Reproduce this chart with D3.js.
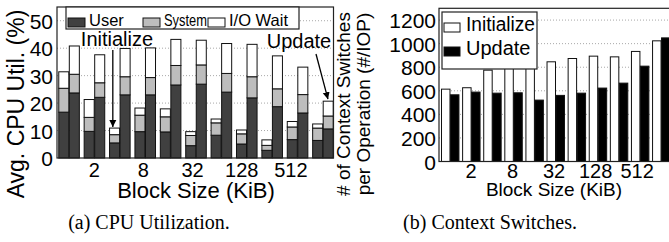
<!DOCTYPE html>
<html><head><meta charset="utf-8">
<script src="https://cdn.jsdelivr.net/npm/d3@7"></script>
<style>
html,body{margin:0;padding:0;background:#fff;overflow:hidden}
svg{display:block}
text{font-family:"Liberation Sans",Arial,Helvetica,sans-serif;fill:#000}
.cap{font-family:"Liberation Serif","Times New Roman",serif}
</style></head>
<body>
<svg id="c" width="669" height="242"></svg>
<script>
// ---- data ----
const categories = ["1","2","4","8","16","32","64","128","256","512","1024"]; // block size KiB
const tickLabels = ["2","8","32","128","512"];
const modes = ["Initialize","Update"];
const cpuParts = ["User","System","I/O Wait"];
// CPU utilization (%) components, stacked
const initUser = [16.7, 9.7, 5.5, 9.6, 9.5, 4.5, 8.3, 5.1, 2.8, 6.7, 6.4];
const initSys  = [8.7, 5.1, 3.0, 6.0, 5.5, 3.7, 4.5, 3.7, 1.8, 4.6, 4.5];
const initIO   = [6.0, 6.5, 2.4, 2.6, 2.9, 1.4, 1.4, 1.4, 2.0, 2.0, 1.5];
const updUser  = [23.7, 22.1, 23.0, 23.0, 26.6, 26.9, 24.0, 21.9, 18.7, 16.4, 10.6];
const updSys   = [6.8, 5.3, 6.6, 6.3, 7.1, 7.0, 6.8, 7.7, 6.5, 6.7, 4.7];
const updIO    = [10.3, 10.2, 10.3, 10.8, 9.5, 9.0, 10.9, 11.8, 12.0, 10.0, 5.4];
const cpuTicks = [0,10,20,30,40,50];
// context switches per operation
const initCS = [614, 626, 775, 812, 804, 846, 874, 894, 888, 934, 1024];
const updCS  = [566, 589, 580, 583, 521, 561, 580, 623, 665, 809, 1049];
const csTicks = [0,200,400,600,800,1000,1200];

const svg = d3.select("#c");
const defs = svg.append("defs");
defs.append("marker").attr("id","ah").attr("viewBox","0 0 10 10").attr("refX",10).attr("refY",5)
  .attr("markerWidth",7).attr("markerHeight",8).attr("orient","auto").attr("markerUnits","userSpaceOnUse")
  .append("path").attr("d","M0,0L10,5L0,10z").attr("fill","#000");

// shrink a text horizontally if it is wider than the room it has
function fit(sel, room){
  sel.each(function(){
    const w = this.getComputedTextLength();
    if (w > room) d3.select(this).attr("textLength", room).attr("lengthAdjust","spacingAndGlyphs");
  });
}

// ================= (a) CPU utilization =================
(function(){
  const L = 57, R = 333.5, T = 7, B = 158;
  const g = svg.append("g");
  const x0 = d3.scaleBand().domain(categories).range([L, 334.5]).paddingInner(0.17).paddingOuter(0.05);
  const x1 = d3.scaleBand().domain(modes).range([0, x0.bandwidth()]);
  const y = d3.scaleLinear().domain([0,55]).range([B, T]);
  g.selectAll("line.grid").data(cpuTicks.filter(d=>d>0)).join("line")
    .attr("x1",L).attr("x2",R).attr("y1",d=>y(d)).attr("y2",d=>y(d))
    .attr("stroke","#a8a8a8").attr("stroke-width",1).attr("stroke-dasharray","1,2");
  const rows = [];
  categories.forEach((c,i)=>{
    rows.push({cat:c, mode:"Initialize", "User":initUser[i], "System":initSys[i], "I/O Wait":initIO[i]});
    rows.push({cat:c, mode:"Update", "User":updUser[i], "System":updSys[i], "I/O Wait":updIO[i]});
  });
  const stack = d3.stack().keys(cpuParts)(rows);
  const fills = {"User":"#404040","System":"#bdbdbd","I/O Wait":"#ffffff"};
  stack.forEach(layer=>{
    g.selectAll(null).data(layer).join("rect")
      .attr("x",d=>x0(d.data.cat)+x1(d.data.mode)+0.5)
      .attr("width",x1.bandwidth()-0.5)
      .attr("y",d=>y(d[1])).attr("height",d=>y(d[0])-y(d[1]))
      .attr("fill",fills[layer.key]).attr("stroke","#111").attr("stroke-width",1);
  });
  g.append("rect").attr("x",L).attr("y",T).attr("width",R-L).attr("height",B-T)
    .attr("fill","none").attr("stroke","#222").attr("stroke-width",1.2);
  const ya = d3.axisLeft(y).tickValues(cpuTicks).tickSize(0).tickPadding(4).tickFormat(d3.format("d"));
  const yg = g.append("g").attr("transform",`translate(${L},0)`).call(ya);
  yg.select(".domain").remove();
  yg.selectAll("text").attr("font-size",21).attr("dy","0.36em");
  const xa = d3.axisBottom(x0).tickValues(tickLabels).tickSize(0).tickPadding(4);
  const xg = g.append("g").attr("transform",`translate(0,${B})`).call(xa);
  xg.select(".domain").remove();
  xg.selectAll("text").attr("font-size",20).attr("dy","0.74em").attr("dx",(d,i)=>-i*1.6);
  g.append("text").attr("x",196).attr("y",198).attr("text-anchor","middle").attr("font-size",22).text("Block Size (KiB)");
  g.append("text").attr("transform","translate(24,104) rotate(-90)").attr("text-anchor","middle").attr("font-size",23).text("Avg. CPU Util. (%)");
  // legend
  g.append("rect").attr("x",66).attr("y",T).attr("width",233).attr("height",22)
    .attr("fill","#fff").attr("stroke","#222").attr("stroke-width",1.2);
  const legX = [68,143,208], legEnd=[141,207,298];
  cpuParts.forEach((k,i)=>{
    g.append("rect").attr("x",legX[i]).attr("y",18).attr("width",17).attr("height",9)
      .attr("fill",fills[k]).attr("stroke","#111").attr("stroke-width",1);
    const t = g.append("text").attr("x",legX[i]+21).attr("y",26).attr("font-size",16.5).text(k);
    fit(t, legEnd[i]-legX[i]-21);
  });
  // annotations
  const ax = x0(categories[2])+x1("Initialize")+x1.bandwidth()/2;
  g.append("text").attr("x",117).attr("y",46).attr("text-anchor","middle").attr("font-size",20).text("Initialize");
  g.append("line").attr("x1",ax-1.5).attr("y1",50).attr("x2",ax-1.5).attr("y2",y(initUser[2]+initSys[2]+initIO[2])-1)
    .attr("stroke","#000").attr("stroke-width",1.3).attr("marker-end","url(#ah)");
  const ux = x0(categories[10])+x1("Update")+x1.bandwidth()/2;
  g.append("text").attr("x",299).attr("y",48).attr("text-anchor","middle").attr("font-size",20).text("Update");
  g.append("line").attr("x1",316).attr("y1",54).attr("x2",ux).attr("y2",y(updUser[10]+updSys[10]+updIO[10])-2)
    .attr("stroke","#000").attr("stroke-width",1.3).attr("marker-end","url(#ah)");
  svg.append("text").attr("class","cap").attr("x",149).attr("y",229).attr("text-anchor","middle").attr("font-size",20).text("(a) CPU Utilization.");
})();

// ================= (b) Context switches =================
(function(){
  const L = 439, R = 672, T = 8.3, B = 161.5;
  const g = svg.append("g");
  const x0 = d3.scaleBand().domain(categories).range([L, R]).paddingInner(0.15).paddingOuter(0.095);
  const x1 = d3.scaleBand().domain(modes).range([0, x0.bandwidth()]);
  const y = d3.scaleLinear().domain([0,1300]).range([B, T]);
  g.selectAll("line.grid").data(csTicks.filter(d=>d>0)).join("line")
    .attr("x1",L).attr("x2",R).attr("y1",d=>y(d)).attr("y2",d=>y(d))
    .attr("stroke","#a8a8a8").attr("stroke-width",1).attr("stroke-dasharray","1,2");
  const rows = [];
  categories.forEach((c,i)=>{
    rows.push({cat:c, mode:"Initialize", v:initCS[i]});
    rows.push({cat:c, mode:"Update", v:updCS[i]});
  });
  const fills = {"Initialize":"#ffffff","Update":"#000000"};
  g.selectAll(null).data(rows).join("rect")
    .attr("x",d=>x0(d.cat)+x1(d.mode)+0.5).attr("width",x1.bandwidth()-0.5)
    .attr("y",d=>y(d.v)).attr("height",d=>B-y(d.v))
    .attr("fill",d=>fills[d.mode]).attr("stroke","#111").attr("stroke-width",1);
  g.append("rect").attr("x",L).attr("y",T).attr("width",R-L+10).attr("height",B-T)
    .attr("fill","none").attr("stroke","#222").attr("stroke-width",1.2);
  const ya = d3.axisLeft(y).tickValues(csTicks).tickSize(0).tickPadding(3).tickFormat(d3.format("d"));
  const yg = g.append("g").attr("transform",`translate(${L},0)`).call(ya);
  yg.select(".domain").remove();
  yg.selectAll("text").attr("font-size",21).attr("dy","0.36em");
  const xa = d3.axisBottom(x0).tickValues(tickLabels).tickSize(0).tickPadding(4);
  const xg = g.append("g").attr("transform",`translate(0,${B})`).call(xa);
  xg.select(".domain").remove();
  xg.selectAll("text").attr("font-size",20).attr("dy","0.62em").attr("dx",(d,i)=>-i*0.7);
  g.append("text").attr("x",554).attr("y",196).attr("text-anchor","middle").attr("font-size",19).text("Block Size (KiB)");
  g.append("text").attr("transform","translate(350,104) rotate(-90)").attr("text-anchor","middle").attr("font-size",19).text("# of Context Switches");
  g.append("text").attr("transform","translate(370,104) rotate(-90)").attr("text-anchor","middle").attr("font-size",19).text("per Operation (#/IOP)");
  // legend
  g.append("rect").attr("x",442).attr("y",12).attr("width",95).attr("height",57)
    .attr("fill","#fff").attr("stroke","#222").attr("stroke-width",1.2);
  modes.forEach((m,i)=>{
    g.append("rect").attr("x",444).attr("y",23+i*24).attr("width",16).attr("height",9)
      .attr("fill",fills[m]).attr("stroke","#111").attr("stroke-width",1);
    const t = g.append("text").attr("x",466).attr("y",31+i*24).attr("font-size",20).text(m);
    fit(t, 535-466);
  });
  svg.append("text").attr("class","cap").attr("x",490).attr("y",229).attr("text-anchor","middle").attr("font-size",20).text("(b) Context Switches.");
})();
</script>
</body></html>
